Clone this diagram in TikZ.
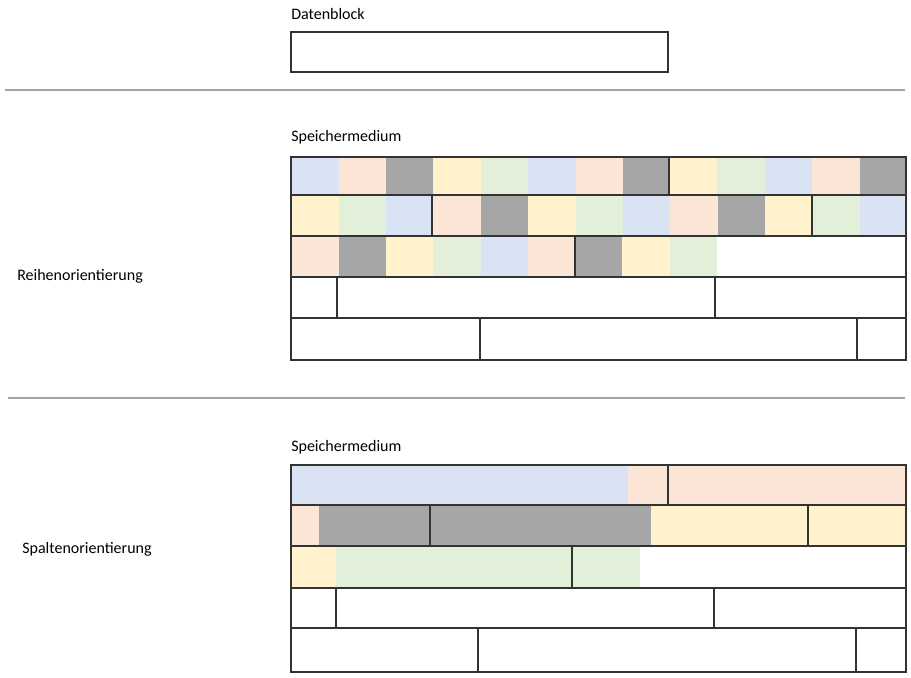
\documentclass[tikz,border=0pt]{standalone}
\usepackage{fontspec}
\setmainfont{Carlito}
\begin{document}
\begin{tikzpicture}[x=0.75pt,y=-0.75pt,
  box/.style={draw=black!80,line width=2pt},
  sep/.style={draw=black!35,line width=1.2pt},
  lbl/.style={anchor=west,font=\fontsize{12}{14}\selectfont,inner sep=0pt}]
\definecolor{cB}{HTML}{DAE3F3}\definecolor{cP}{HTML}{FBE5D6}
\definecolor{cG}{HTML}{A6A6A6}\definecolor{cY}{HTML}{FFF2CC}
\definecolor{cN}{HTML}{E2F0D9}
\useasboundingbox (0,0) rectangle (911,678);
\node[lbl] (t1) at (291,14) {Datenblock};
\draw[box] (291,32) rectangle (668,72);
\draw[sep] (5,90) -- (905,90);
\draw[sep] (8,398) -- (905,398);
\node[lbl] (t2) at (291,137) {Speichermedium};
\node[lbl] (t3) at (291,447) {Speichermedium};
\node[lbl] (r) at (17,276) {Reihenorientierung};
\node[lbl] (s) at (22,549) {Spaltenorientierung};
% row-oriented fills
\foreach \a/\b/\c in {291/339/cB,339/386/cP,386/433/cG,433/481/cY,481/528/cN,528/576/cB,576/623/cP,623/669/cG,669/717/cY,717/765/cN,765/812/cB,812/860/cP,860/906/cG}
  \fill[\c] (\a,157) rectangle (\b,195);
\foreach \a/\b/\c in {291/339/cY,339/386/cN,386/432/cB,432/481/cP,481/528/cG,528/576/cY,576/623/cN,623/670/cB,670/718/cP,718/765/cG,765/812/cY,812/860/cN,860/906/cB}
  \fill[\c] (\a,195) rectangle (\b,236);
\foreach \a/\b/\c in {291/339/cP,339/386/cG,386/433/cY,433/481/cN,481/528/cB,528/575/cP,575/622/cG,622/670/cY,670/717/cN}
  \fill[\c] (\a,236) rectangle (\b,277);
\foreach \y/\z in {157/195,195/236,236/277,277/318,318/360}
  \draw[box] (291,\y) rectangle (906,\z);
\foreach \x/\y/\z in {669/157/195,432/195/236,812/195/236,575/236/277,337/277/318,715/277/318,480/318/360,857/318/360}
  \draw[box] (\x,\y) -- (\x,\z);
% column-oriented fills
\foreach \a/\b/\c in {291/628/cB,628/906/cP}
  \fill[\c] (\a,465) rectangle (\b,505);
\foreach \a/\b/\c in {291/319/cP,319/651/cG,651/906/cY}
  \fill[\c] (\a,505) rectangle (\b,546);
\foreach \a/\b/\c in {291/336/cY,336/640/cN}
  \fill[\c] (\a,546) rectangle (\b,588);
\foreach \y/\z in {465/505,505/546,546/588,588/628,628/672}
  \draw[box] (291,\y) rectangle (906,\z);
\foreach \x/\y/\z in {668/465/505,430/505/546,808/505/546,572/546/588,336/588/628,714/588/628,478/628/672,856/628/672}
  \draw[box] (\x,\y) -- (\x,\z);
\end{tikzpicture}
\end{document}
